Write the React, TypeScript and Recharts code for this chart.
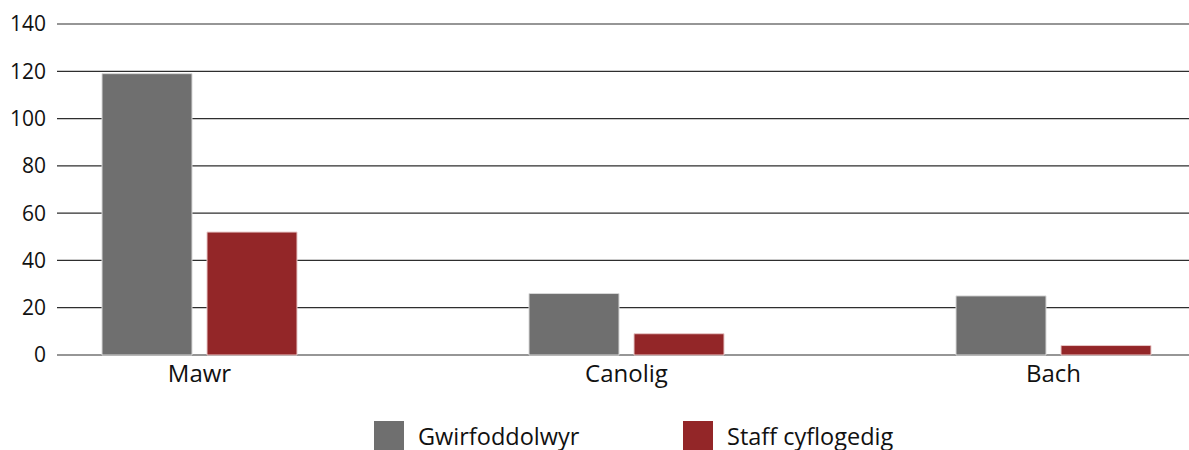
import { BarChart, Bar, XAxis, YAxis, CartesianGrid, Legend } from 'recharts';

const categories = ['Mawr', 'Canolig', 'Bach'];
const volunteers = [119, 26, 25];
const paidStaff = [52, 9, 4];
const yTicks = [0, 20, 40, 60, 80, 100, 120, 140];

const seriesInfo = [
  { key: 'volunteers', label: 'Gwirfoddolwyr', color: '#6f6f6f' },
  { key: 'paidStaff', label: 'Staff cyflogedig', color: '#932628' },
];

const data = categories.map((name, i) => ({
  name,
  volunteers: volunteers[i],
  paidStaff: paidStaff[i],
}));

const FONT = '"Open Sans", Arial, sans-serif';

function LegendBox() {
  return (
    <div style={{ display: 'flex', paddingLeft: 374, paddingTop: 15, fontFamily: FONT }}>
      {seriesInfo.map((s, i) => (
        <div
          key={s.key}
          style={{ display: 'flex', alignItems: 'center', width: i === 0 ? 309 : 'auto' }}
        >
          <span style={{ width: 30, height: 30, background: s.color, display: 'inline-block' }} />
          <span style={{ marginLeft: 14, fontSize: 23.5, color: '#111' }}>{s.label}</span>
        </div>
      ))}
    </div>
  );
}

export default function App() {
  return (
    <div style={{ position: 'absolute', left: 0, top: 0, width: 1189, height: 450, background: '#fff' }}>
      <BarChart
        width={1189}
        height={450}
        data={data}
        margin={{ top: 24, right: 0, bottom: 0, left: 0 }}
        barSize={90}
        barGap={15}
      >
        <CartesianGrid vertical={false} stroke="#2e2e2e" strokeWidth={1.2} />
        <XAxis
          dataKey="name"
          axisLine={false}
          tickLine={false}
          tickSize={0}
          tickMargin={10}
          height={50}
          padding={{ left: -71, right: -78 }}
          fontSize={24}
          tick={{ fill: '#111', fontSize: 24, fontFamily: FONT }}
        />
        <YAxis
          domain={[0, 140]}
          ticks={yTicks}
          axisLine={false}
          tickLine={false}
          tickSize={0}
          tickMargin={11}
          width={57}
          fontSize={21}
          tick={{ fill: '#111', fontSize: 21, fontFamily: FONT }}
        />
        <Legend
          verticalAlign="bottom"
          content={() => <LegendBox />}
          wrapperStyle={{ left: 0, width: 1189, height: 45 }}
        />
        <Bar dataKey="volunteers" fill="#6f6f6f" stroke="#d8d8d8" strokeWidth={1} isAnimationActive={false} />
        <Bar dataKey="paidStaff" fill="#932628" stroke="#e8c8c8" strokeWidth={1} isAnimationActive={false} />
      </BarChart>
    </div>
  );
}
